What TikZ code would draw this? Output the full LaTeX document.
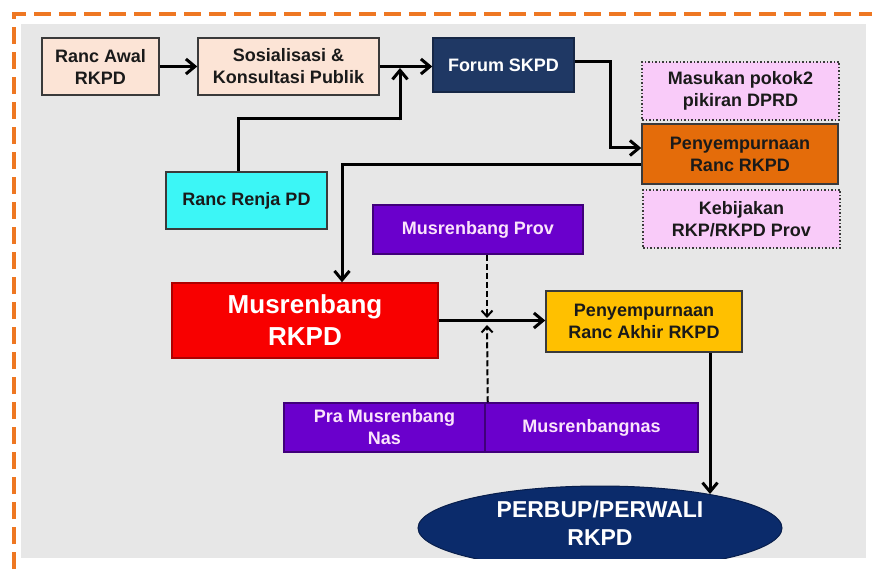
\documentclass[tikz,border=0pt]{standalone}
\usepackage{fontspec}
\setmainfont{Liberation Sans}
\usetikzlibrary{arrows.meta,shapes.geometric}
\definecolor{peach}{HTML}{FCE4D6}
\definecolor{navy}{HTML}{1F3864}
\definecolor{pinkbox}{HTML}{F9CBF9}
\definecolor{orangebox}{HTML}{E46C0A}
\definecolor{cyanbox}{HTML}{3CF6F6}
\definecolor{purplebox}{HTML}{6A00CC}
\definecolor{redbox}{HTML}{F80000}
\definecolor{goldbox}{HTML}{FFC000}
\definecolor{ellnavy}{HTML}{0B2B6B}
\definecolor{bggray}{HTML}{E7E7E7}
\definecolor{frame}{HTML}{EE7722}
\definecolor{edge}{HTML}{3A3A3A}
\definecolor{txt}{HTML}{1A1A1A}
\definecolor{lighttxt}{HTML}{FBE4FB}
\tikzset{
  x=1pt, y=-1pt,
  box/.style={draw=edge, line width=1.5pt, inner sep=0pt, align=center,
    text=txt, font=\bfseries\fontsize{18}{22}\selectfont},
  dotbox/.style={box, fill=pinkbox, dotted, line width=1.8pt},
  arr/.style={line width=3pt, draw=black,
    -{Straight Barb[length=9pt,width=15pt,line width=3pt]}},
  darr/.style={line width=2pt, draw=black, dash pattern=on 6pt off 3pt,
    -{Straight Barb[length=6pt,width=11pt,line width=2pt]}}
}
\begin{document}
\begin{tikzpicture}
\useasboundingbox (0,0) rectangle (872,569);
\fill[white] (0,0) rectangle (872,569);
% frame
\draw[frame, line width=4pt, dash pattern=on 17pt off 8pt] (14,569) -- (14,14) -- (872,14);
% background
\fill[bggray] (21,24) rectangle (866,558);

% nodes
\node[box, fill=peach, minimum width=117pt, minimum height=57pt] (awal) at (100.5,66.5) {Ranc Awal\\RKPD};
\node[box, fill=peach, minimum width=181pt, minimum height=57pt] (sos) at (288.5,66.5) {Sosialisasi \&\\Konsultasi Publik};
\node[box, fill=navy, draw=navy!70!black, text=white, minimum width=141pt, minimum height=54pt] (forum) at (503.5,65) {Forum SKPD};
\node[dotbox, minimum width=197pt, minimum height=58pt] (masukan) at (740.5,91) {Masukan pokok2\\pikiran DPRD};
\node[box, fill=orangebox, minimum width=196pt, minimum height=60pt] (peny) at (740,154) {Penyempurnaan\\Ranc RKPD};
\node[dotbox, minimum width=197pt, minimum height=58pt] (kebij) at (741.5,219) {Kebijakan\\RKP/RKPD Prov};
\node[box, fill=cyanbox, minimum width=161pt, minimum height=57pt] (renja) at (246.5,200.5) {Ranc Renja PD};
\node[box, fill=purplebox, draw=purplebox!60!black, text=lighttxt, minimum width=210pt, minimum height=49pt] (prov) at (478,229.5) {Musrenbang Prov};
\node[box, fill=redbox, draw=redbox!70!black, text=white, minimum width=266pt, minimum height=75pt,
  font=\bfseries\fontsize{26}{32}\selectfont] (musren) at (305,320.5) {Musrenbang\\RKPD};
\node[box, fill=goldbox, minimum width=196pt, minimum height=61pt] (akhir) at (644,321.5) {Penyempurnaan\\Ranc Akhir RKPD};
\node[box, fill=purplebox, draw=purplebox!60!black, text=lighttxt, minimum width=201pt, minimum height=49pt] (pra) at (384.5,427.5) {Pra Musrenbang\\Nas};
\node[box, fill=purplebox, draw=purplebox!60!black, text=lighttxt, minimum width=213pt, minimum height=49pt] (nas) at (591.5,427.5) {Musrenbangnas};
\begin{scope}
\clip (21,24) rectangle (866,558);
\node[ellipse, fill=ellnavy, draw=ellnavy!70!black, line width=1pt, inner sep=0pt,
  minimum width=364pt, minimum height=84pt] (perbup) at (600,528) {};
\end{scope}
\node[align=center, text=white, font=\bfseries\fontsize{23}{28}\selectfont] (perbuptxt) at (600,523) {PERBUP/PERWALI\\RKPD};

% junction coordinates
\coordinate (j1) at (400,68);
\coordinate (m1) at (487,318);
\coordinate (m2) at (487,325);
\coordinate (e1) at (710,494);

% connectors
\draw[arr] (awal.east) -- (sos.west);
\draw[arr] (sos.east) -- (sos.east -| forum.west);
\draw[line width=3pt] ([xshift=-8pt]renja.north) |- (400,119);
\draw[arr] (400,120.5) -- (j1);
\draw[arr] ([yshift=3pt]forum.east) -- ++(36,0) |- ([yshift=6pt]peny.west);
\draw[arr] ([yshift=-11pt]peny.west) -| ([xshift=37pt]musren.north);
\draw[arr] (musren.east) -- (musren.east -| akhir.west);
\draw[darr] ([xshift=9pt]prov.south) -- (m1);
\draw[darr] ([xshift=2pt]pra.north east) -- (m2);
\draw[arr] ([xshift=66pt]akhir.south) -- (e1);
\end{tikzpicture}
\end{document}
